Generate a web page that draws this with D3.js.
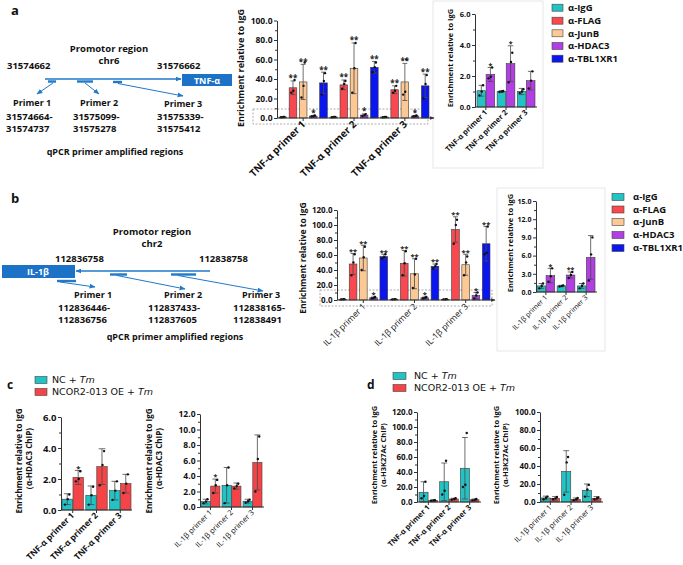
<!DOCTYPE html>
<html><head><meta charset="utf-8">
<script src="https://cdn.jsdelivr.net/npm/d3@7"></script>
<style>body{margin:0;background:#fff} svg{display:block} text{font-family:"Open Sans",sans-serif}</style>
</head><body><svg id="c" width="683" height="565"></svg>
<script>
// ---------- categories ----------
const tnfPrimers = ["TNF-α primer 1","TNF-α primer 2","TNF-α primer 3"];
const ilPrimers = ["IL-1β primer 1","IL-1β primer 2","IL-1β primer 3"];
const antibodies = ["α-IgG","α-FLAG","α-JunB","α-HDAC3","α-TBL1XR1"];
const insetSeries = ["α-IgG","α-HDAC3"];
const treatments = ["NC + Tm","NCOR2-013 OE + Tm"];

// ---------- panel a, main ----------
const aMainMeans = [[1,1,1],[31,34,29],[37,51,37],[2,3,2],[36,52,33]];
const aMainSD = [[0.3,0.3,0.3],[7,5,4],[18,26,19],[0.6,1.2,0.6],[11,6,12]];
const aMainPts = [
 [[0.8,1,1.2],[0.8,1,1.2],[0.8,1,1.2]],
 [[26,28,39],[30,35,38],[26,28,33]],
 [[21,33,57],[26,51,77],[24,27,60]],
 [[1.5,2,2.5],[2,3,4],[1.5,2,2.5]],
 [[24,38,46],[47,52,57],[20,35,44]]];
const aMainStars = [["","",""],["**","**","**"],["**","**","**"],["*","*","*"],["**","**","**"]];
// ---------- panel a, inset ----------
const aInsMeans = [[1.05,1.0,1.0],[2.1,2.8,1.7]];
const aInsSD = [[0.35,0.05,0.2],[0.45,1.15,0.6]];
const aInsPts = [[[0.75,1.0,1.4],[0.97,1.0,1.03],[0.9,1.0,1.15]],[[1.85,1.95,2.55],[1.6,2.9,3.5],[1.2,1.7,2.3]]];
const aInsStars = [["","",""],["*","*",""]];
// ---------- panel b, main ----------
const bMainMeans = [[1,1,1],[48,49,94],[56,35,47],[3,3,6],[58,45,75]];
const bMainSD = [[0.3,0.3,0.3],[14,17,17],[17,20,14],[1,1,4],[3,3,23]];
const bMainPts = [
 [[0.8,1,1.2],[0.8,1,1.2],[0.8,1,1.2]],
 [[33,50,61],[33,49,65],[75,100,107]],
 [[40,57,71],[16,34,55],[33,50,58]],
 [[2,3,4],[2,3,4],[2,6,10]],
 [[55,57,61],[42,45,48],[61,63,98]]];
const bMainStars = [["","",""],["**","**","**"],["**","**","**"],["*","*","*"],["**","**","**"]];
// ---------- panel b, inset ----------
const bInsMeans = [[1.0,1.0,1.0],[2.7,2.8,5.7]];
const bInsSD = [[0.4,0.1,0.4],[1.2,0.5,3.6]];
const bInsPts = [[[0.6,1.0,1.4],[0.9,1.0,1.1],[0.6,1.0,1.4]],[[1.7,2.6,3.9],[2.3,2.8,3.3],[1.9,6.2,9.0]]];
const bInsStars = [["","",""],["*","**",""]];
// ---------- panel c ----------
const cLeftMeans = [[0.7,0.95,1.25],[2.1,2.8,1.7]];
const cLeftSD = [[0.35,0.6,0.6],[0.45,1.15,0.6]];
const cLeftPts = [[[0.35,0.7,1.0],[0.35,0.95,1.5],[0.65,1.25,1.85]],[[1.85,2.0,2.5],[1.6,2.9,3.8],[1.1,1.7,2.3]]];
const cLeftStars = [["","",""],["*","",""]];
const cRightMeans = [[0.7,2.8,0.75],[2.7,2.7,5.75]];
const cRightSD = [[0.3,2.3,0.25],[0.9,0.4,3.55]];
const cRightPts = [[[0.5,0.7,1.0],[0.5,2.8,5.1],[0.55,0.75,0.95]],[[1.8,2.8,3.5],[2.4,2.7,3.0],[2.0,6.2,9.1]]];
const cRightStars = [["","",""],["*","",""]];
// ---------- panel d ----------
const dLeftMeans = [[13,27,45],[2,4,3]];
const dLeftSD = [[14,25,41],[1,1,1]];
const dLeftPts = [[[5,8,27],[10,15,55],[20,23,92]],[[1.5,2,2.5],[3,4,5],[2,3,4]]];
const dRightMeans = [[4.5,34,13],[4,3,4]];
const dRightSD = [[2,23,7],[2,1.5,2]];
const dRightPts = [[[3,4.5,6],[8,44,50],[6,14,19]],[[3,4,5.5],[2,3,4.5],[3,4,5]]];

// ---------- styles ----------
const abColor = d3.scaleOrdinal().domain(antibodies).range(["#23c2c4","#f7494f","#fcc995","#b23fe4","#0b16ee"]);
const trColor = d3.scaleOrdinal().domain(treatments).range(["#23c2c4","#f54448"]);
const BLUE = "#2079c9";

const svg = d3.select("#c");
const defs = svg.append("defs");
defs.append("marker").attr("id","arrB").attr("viewBox","0 0 10 10").attr("refX",9).attr("refY",5)
  .attr("markerWidth",6).attr("markerHeight",6).attr("markerUnits","userSpaceOnUse").attr("orient","auto")
  .append("path").attr("d","M0,1 L10,5 L0,9 z").attr("fill",BLUE);
defs.append("marker").attr("id","arrK").attr("viewBox","0 0 10 10").attr("refX",9).attr("refY",5)
  .attr("markerWidth",5).attr("markerHeight",5).attr("markerUnits","userSpaceOnUse").attr("orient","auto")
  .append("path").attr("d","M0,1 L10,5 L0,9 z").attr("fill","#333");

function txt(x,y,s,size,weight,anchor,fill){
  return svg.append("text").attr("x",x).attr("y",y).text(s).attr("font-size",size)
    .attr("font-weight",weight||"bold").attr("text-anchor",anchor||"start").attr("fill",fill||"#111");
}

function barPanel(o){
  const y = d3.scaleLinear().domain([0,o.yMax]).range([o.yBase,o.yTop]);
  const xg = d3.scaleBand().domain(o.cats).range(o.xRange).paddingInner(o.padG);
  const xs = d3.scaleBand().domain(o.series).range([0,xg.bandwidth()]).paddingInner(o.padS);
  const g = svg.append("g");
  if(o.dash) g.append("rect").attr("x",o.dash[0]).attr("y",o.dash[1]).attr("width",o.dash[2]).attr("height",o.dash[3])
     .attr("fill","none").attr("stroke","#8a8a8a").attr("stroke-width",0.7).attr("stroke-dasharray","2,1.5");
  const cells=[];
  o.series.forEach((s,j)=>o.cats.forEach((c,i)=>cells.push({s,c,m:o.means[j][i],sd:o.sds[j][i],p:o.pts[j][i],st:o.stars?o.stars[j][i]:""})));
  const bw = xs.bandwidth();
  const cx = d => xg(d.c)+xs(d.s)+bw/2;
  g.selectAll("rect.bar").data(cells).join("rect").attr("class","bar")
    .attr("x",d=>xg(d.c)+xs(d.s)).attr("y",d=>y(d.m)).attr("width",bw).attr("height",d=>o.yBase-y(d.m))
    .attr("fill",d=>o.color(d.s)).attr("stroke","#3d3d3d").attr("stroke-width",0.6);
  const cap = Math.min(bw*0.32,3.5);
  g.selectAll("path.err").data(cells).join("path").attr("class","err")
    .attr("d",d=>{const lo=y(Math.max(0,d.m-d.sd)),hi=y(d.m+d.sd),x=cx(d);
      return `M${x},${lo}V${hi}M${x-cap},${hi}H${x+cap}M${x-cap},${lo}H${x+cap}`;})
    .attr("stroke","#4a4a4a").attr("stroke-width",0.8).attr("fill","none");
  const offs=[-0.22,0.05,0.2];
  const dots=[];
  cells.forEach(d=>d.p.forEach((v,k)=>dots.push({x:cx(d)+offs[k]*bw,v})));
  g.selectAll("circle").data(dots).join("circle").attr("cx",d=>d.x).attr("cy",d=>y(d.v)).attr("r",1.2).attr("fill","#111");
  g.selectAll("text.star").data(cells.filter(d=>d.st)).join("text").attr("class","star")
    .attr("x",cx).attr("y",d=>y(d.m+d.sd)+o.starSize*0.05).attr("text-anchor","middle")
    .attr("font-size",o.starSize).attr("font-weight","bold").attr("fill","#222").text(d=>d.st);
  // y axis
  const ya = g.append("g").attr("transform",`translate(${o.axisX},0)`)
    .call(d3.axisLeft(y).tickValues(d3.range(0,o.yMax+1e-9,o.yTick)).tickFormat(d3.format(".1f")).tickSize(3).tickSizeOuter(0).tickPadding(1.5));
  ya.selectAll("text").attr("font-size",o.tickFont).attr("font-weight","bold").attr("fill","#111").attr("font-family","Open Sans");
  ya.selectAll("line,path").attr("stroke","#333");
  const ym = g.append("g").attr("transform",`translate(${o.axisX},0)`)
    .call(d3.axisLeft(y).tickValues(d3.range(o.yMinor,o.yMax,o.yTick)).tickFormat("").tickSize(2).tickSizeOuter(0));
  ym.select(".domain").remove(); ym.selectAll("line").attr("stroke","#333");
  // x axis
  g.append("path").attr("d",`M${o.axisX},${o.yBase}H${o.xEnd}`).attr("stroke","#333").attr("stroke-width",1)
    .attr("marker-end",o.arrow?"url(#arrK)":null);
  g.selectAll("line.xt").data(o.cats).join("line").attr("class","xt")
    .attr("x1",c=>xg(c)+xg.bandwidth()/2).attr("x2",c=>xg(c)+xg.bandwidth()/2)
    .attr("y1",o.yBase).attr("y2",o.yBase+3).attr("stroke","#333");
  g.selectAll("text.xl").data(o.cats).join("text").attr("class","xl")
    .attr("transform",c=>`translate(${xg(c)+xg.bandwidth()/2+o.labelDx},${o.yBase+o.labelDy}) rotate(-45)`)
    .attr("text-anchor","end").attr("font-size",o.labelFont).attr("font-weight",o.labelWeight).attr("fill","#111").text(c=>c);
  // y label
  o.yLabel.forEach((ln,k)=>{
    g.append("text").attr("transform",`translate(${o.yLabelX[k]},${o.yLabelCy}) rotate(-90)`).attr("text-anchor","middle")
      .attr("font-size",o.yLabelSize).attr("font-weight","bold").attr("fill","#111").text(ln);
  });
}

function legend(x,ys,items,color,size,weight,tx,sw,sh,family){
  items.forEach((it,i)=>{
    svg.append("rect").attr("x",x).attr("y",ys[i]-sh/2).attr("width",sw).attr("height",sh)
      .attr("fill",color(it)).attr("stroke","#444").attr("stroke-width",0.6);
    const ty = ys[i]+size*0.36;
    if(it.endsWith(" Tm")){
      const t1 = svg.append("text").attr("x",tx).attr("y",ty).attr("font-size",size).attr("font-weight",weight).attr("fill","#111").text(it.slice(0,-3));
      if(family) t1.style("font-family",family);
      const w = t1.node().getComputedTextLength();
      const t2 = svg.append("text").attr("x",tx+w+size*0.32).attr("y",ty).attr("font-size",size).attr("font-weight",weight)
        .attr("font-style","italic").attr("fill","#111").text("Tm");
      if(family) t2.style("font-family",family);
    } else {
      const t = svg.append("text").attr("x",tx).attr("y",ty).attr("font-size",size).attr("font-weight",weight).attr("fill","#111").text(it);
      if(family) t.style("font-family",family);
    }
  });
}

// ================= Panel a diagram =================
txt(11,15,"a",13,"bold");
txt(109,52,"Promotor region",9.5,"bold","middle");
txt(109,64,"chr6",9.5,"bold","middle");
txt(7,69,"31574662",9.5,"bold");
txt(157,69,"31576662",9.5,"bold");
svg.append("line").attr("x1",45).attr("y1",79).attr("x2",181).attr("y2",79).attr("stroke",BLUE).attr("stroke-width",1.4).attr("marker-end","url(#arrB)");
svg.append("rect").attr("x",182).attr("y",74).attr("width",50).attr("height",12).attr("fill","#1b72c6");
txt(207,83.5,"TNF-α",9,"bold","middle","#fff");
[[48,56,81.5],[77,93,81.5],[113,122,82]].forEach(p=>svg.append("line").attr("x1",p[0]).attr("x2",p[1]).attr("y1",p[2]).attr("y2",p[2]).attr("stroke",BLUE).attr("stroke-width",2.4));
[[53,83,37,94],[85,83,99,94],[118,83.5,183,96]].forEach(p=>svg.append("line").attr("x1",p[0]).attr("y1",p[1]).attr("x2",p[2]).attr("y2",p[3]).attr("stroke",BLUE).attr("stroke-width",1).attr("marker-end","url(#arrB)"));
txt(13,106,"Primer 1",9,"bold"); txt(80,106,"Primer 2",9,"bold"); txt(164,107,"Primer 3",9,"bold");
txt(6,120,"31574664-",9.5,"bold"); txt(6,132,"31574737",9.5,"bold");
txt(73,120,"31575099-",9.5,"bold"); txt(73,132,"31575278",9.5,"bold");
txt(157,120,"31575339-",9.5,"bold"); txt(157,132,"31575412",9.5,"bold");
txt(115,155,"qPCR primer amplified regions",9,"bold","middle");

// ================= Panel b diagram =================
txt(11,203,"b",13,"bold");
txt(152,235,"Promotor region",9.5,"bold","middle");
txt(152,247,"chr2",9.5,"bold","middle");
txt(55,262,"112836758",9.5,"bold");
txt(199,262,"112838758",9.5,"bold");
svg.append("rect").attr("x",2).attr("y",265).attr("width",73).attr("height",13).attr("fill","#1b72c6");
txt(38,275,"IL-1β",9,"bold","middle","#fff");
svg.append("line").attr("x1",210).attr("y1",271).attr("x2",76).attr("y2",271).attr("stroke",BLUE).attr("stroke-width",1.4).attr("marker-end","url(#arrB)");
[[57,76,281],[110,127,274.5],[171,196,274.5]].forEach(p=>svg.append("line").attr("x1",p[0]).attr("x2",p[1]).attr("y1",p[2]).attr("y2",p[2]).attr("stroke",BLUE).attr("stroke-width",2.4));
[[60,282,95,287],[117,275.5,185,289],[178,275.5,263,291]].forEach(p=>svg.append("line").attr("x1",p[0]).attr("y1",p[1]).attr("x2",p[2]).attr("y2",p[3]).attr("stroke",BLUE).attr("stroke-width",1).attr("marker-end","url(#arrB)"));
txt(74,298,"Primer 1",9,"bold"); txt(164,298,"Primer 2",9,"bold"); txt(242,298,"Primer 3",9,"bold");
txt(58,311,"112836446-",9.5,"bold"); txt(58,323,"112836756",9.5,"bold");
txt(148,311,"112837433-",9.5,"bold"); txt(148,323,"112837605",9.5,"bold");
txt(233,311,"112838165-",9.5,"bold"); txt(233,323,"112838491",9.5,"bold");
txt(175,340,"qPCR primer amplified regions",9,"bold","middle");

// ================= frames of insets =================
svg.append("rect").attr("x",433).attr("y",1).attr("width",110).attr("height",167).attr("fill","none").attr("stroke","#e2e2e2").attr("stroke-width",0.8);
svg.append("rect").attr("x",497).attr("y",188).attr("width",108).attr("height",163).attr("fill","none").attr("stroke","#e2e2e2").attr("stroke-width",0.8);

// ================= charts =================
barPanel({cats:tnfPrimers,series:antibodies,color:abColor,means:aMainMeans,sds:aMainSD,pts:aMainPts,stars:aMainStars,
  yMax:100,yTick:20,yMinor:10,axisX:277,yBase:118,yTop:20.5,xRange:[279,429],padG:0.05,padS:0.25,xEnd:434,arrow:true,
  tickFont:8.5,labelFont:10,labelWeight:"bold",labelDx:3,labelDy:7,starSize:8,dash:[253,109,175,15],
  yLabel:["Enrichment relative to IgG"],yLabelX:[243.5],yLabelCy:68,yLabelSize:9});
barPanel({cats:tnfPrimers,series:insetSeries,color:abColor,means:aInsMeans,sds:aInsSD,pts:aInsPts,stars:aInsStars,
  yMax:6,yTick:2,yMinor:1,axisX:475,yBase:107,yTop:14,xRange:[477,535],padG:0.12,padS:0.05,xEnd:537,arrow:false,
  tickFont:7.5,labelFont:7.5,labelWeight:"bold",labelDx:2,labelDy:6,starSize:7,
  yLabel:["Enrichment relative to IgG"],yLabelX:[453],yLabelCy:58,yLabelSize:7.5});
legend(552,[7.7,20.7,33.3,46,58.7],antibodies,abColor,9.5,"bold",568,11,7);

barPanel({cats:ilPrimers,series:antibodies,color:abColor,means:bMainMeans,sds:bMainSD,pts:bMainPts,stars:bMainStars,
  yMax:120,yTick:20,yMinor:10,axisX:337,yBase:300,yTop:210,xRange:[339,490],padG:0.05,padS:0.25,xEnd:495,arrow:true,
  tickFont:8,labelFont:8.5,labelWeight:"normal",labelDx:3,labelDy:7,starSize:7.5,dash:[320,290,172,16],
  yLabel:["Enrichment relative to IgG"],yLabelX:[306],yLabelCy:258,yLabelSize:8.5});
barPanel({cats:ilPrimers,series:insetSeries,color:abColor,means:bInsMeans,sds:bInsSD,pts:bInsPts,stars:bInsStars,
  yMax:15,yTick:3,yMinor:1.5,axisX:536,yBase:292,yTop:201,xRange:[537,595],padG:0.12,padS:0.05,xEnd:597,arrow:false,
  tickFont:7,labelFont:7,labelWeight:"normal",labelDx:2,labelDy:6,starSize:7,
  yLabel:["Enrichment relative to IgG"],yLabelX:[513],yLabelCy:243,yLabelSize:7.5});
legend(612,[197,209.5,222,235,248],antibodies,abColor,9.5,"bold",633,12,7);

// panel c
txt(7,389,"c",12,"bold");
legend(35,[380,392],treatments,trColor,9.5,"normal",52,12,7,"DejaVu Sans");
barPanel({cats:tnfPrimers,series:treatments,color:trColor,means:cLeftMeans,sds:cLeftSD,pts:cLeftPts,stars:cLeftStars,
  yMax:6,yTick:2,yMinor:1,axisX:61,yBase:510,yTop:417,xRange:[62,131],padG:0.1,padS:0.05,xEnd:132,arrow:false,
  tickFont:9.5,labelFont:8.5,labelWeight:"bold",labelDx:2,labelDy:6,starSize:7.5,
  yLabel:["Enrichment relative to IgG","（α-HDAC3 ChIP)"],yLabelX:[22,32],yLabelCy:461,yLabelSize:8});
barPanel({cats:ilPrimers,series:treatments,color:trColor,means:cRightMeans,sds:cRightSD,pts:cRightPts,stars:cRightStars,
  yMax:12,yTick:2,yMinor:1,axisX:200,yBase:507,yTop:414,xRange:[201,262],padG:0.1,padS:0.05,xEnd:264,arrow:false,
  tickFont:8.5,labelFont:7.5,labelWeight:"normal",labelDx:2,labelDy:6,starSize:7,
  yLabel:["Enrichment relative to IgG","（α-HDAC3 ChIP)"],yLabelX:[152,162],yLabelCy:461,yLabelSize:8});

// panel d
txt(367,389,"d",12,"bold");
legend(393,[376,388],treatments,trColor,9.5,"normal",414,13,7,"DejaVu Sans");
barPanel({cats:tnfPrimers,series:treatments,color:trColor,means:dLeftMeans,sds:dLeftSD,pts:dLeftPts,stars:null,
  yMax:120,yTick:20,yMinor:10,axisX:417,yBase:502,yTop:412,xRange:[419,479],padG:0.1,padS:0.05,xEnd:481,arrow:false,
  tickFont:8,labelFont:7.5,labelWeight:"bold",labelDx:2,labelDy:6,starSize:7,
  yLabel:["Enrichment relative to IgG","(α-H3K27Ac ChIP)"],yLabelX:[377,386],yLabelCy:455,yLabelSize:7.5});
barPanel({cats:ilPrimers,series:treatments,color:trColor,means:dRightMeans,sds:dRightSD,pts:dRightPts,stars:null,
  yMax:100,yTick:20,yMinor:10,axisX:540,yBase:502,yTop:412,xRange:[541,601],padG:0.1,padS:0.05,xEnd:603,arrow:false,
  tickFont:8,labelFont:7.5,labelWeight:"normal",labelDx:2,labelDy:6,starSize:7,
  yLabel:["Enrichment relative to IgG","(α-H3K27Ac ChIP)"],yLabelX:[499,508],yLabelCy:455,yLabelSize:7.5});
</script></body></html>
